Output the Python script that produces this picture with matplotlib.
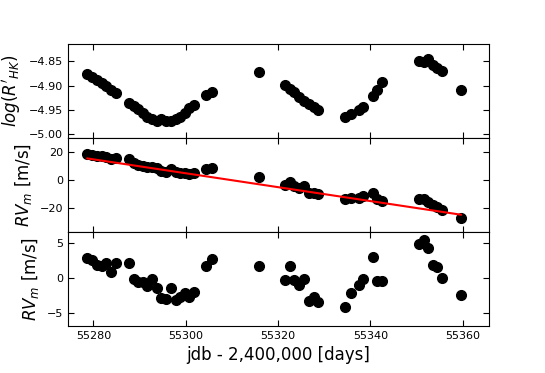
import matplotlib
matplotlib.use("Agg")
import matplotlib.pyplot as plt
import numpy as np

# Julian dates (jdb - 2,400,000)
jd = [55278.7, 55279.8, 55280.7, 55281.8, 55282.7, 55283.8, 55284.8,
      55287.7, 55288.7, 55289.7, 55290.7, 55291.7, 55292.7, 55293.7,
      55294.7, 55295.7, 55296.8, 55297.8, 55298.8, 55299.8, 55300.8,
      55301.8, 55304.5, 55305.7, 55315.9, 55321.5, 55322.5, 55323.5,
      55324.6, 55325.6, 55326.6, 55327.7, 55328.7, 55334.6, 55335.7,
      55337.5, 55338.5, 55340.6, 55341.5, 55342.6, 55350.5, 55351.6,
      55352.5, 55353.5, 55354.5, 55355.5, 55359.6]

log_rhk = [-4.876, -4.883, -4.889, -4.895, -4.900, -4.908, -4.915,
           -4.935, -4.942, -4.949, -4.957, -4.964, -4.969, -4.972,
           -4.969, -4.972, -4.973, -4.969, -4.964, -4.957, -4.947,
           -4.940, -4.919, -4.913, -4.872, -4.899, -4.906, -4.913,
           -4.923, -4.932, -4.938, -4.945, -4.951, -4.964, -4.958,
           -4.950, -4.943, -4.921, -4.909, -4.893, -4.850, -4.851,
           -4.844, -4.858, -4.864, -4.869, -4.908]

rv = [18.7, 18.2, 17.5, 17.0, 16.8, 14.9, 16.0,
      15.1, 12.0, 11.0, 10.3, 9.1, 9.8, 8.4,
      6.7, 6.2, 8.1, 5.5, 5.0, 5.0, 4.3,
      4.8, 7.7, 8.4, 2.4, -3.4, -1.0, -4.1,
      -5.3, -4.3, -8.9, -8.9, -10.1, -13.7, -12.5,
      -12.5, -11.7, -9.6, -13.7, -15.3, -13.7, -13.7,
      -16.0, -18.0, -19.2, -21.6, -27.3]

rv_resid = [2.8, 2.6, 1.8, 1.7, 2.1, 0.9, 2.1,
            2.1, -0.2, -0.6, -0.6, -1.2, -0.2, -1.4,
            -2.9, -3.0, -1.5, -3.2, -2.8, -2.2, -2.7,
            -2.0, 1.65, 2.7, 1.75, -0.25, 1.65, -0.25,
            -1.0, -0.1, -3.35, -2.7, -3.5, -4.1, -2.1,
            -1.0, -0.1, 3.0, -0.4, -0.5, 4.85, 5.4,
            4.3, 1.9, 1.55, 0.0, -2.5]

# linear trend fit (m/s, m/s/day) referenced to first epoch
fit_t0 = 55278.7
fit_intercept = 15.6
fit_slope = -0.50

fig = plt.figure(figsize=(5.45, 3.73), dpi=100)
left, right = 68 / 545, 489 / 545
top, bottom = 1 - 44 / 373, 1 - 326 / 373
h = (top - bottom) / 3
axes = [fig.add_axes([left, bottom + (2 - i) * h, right - left, h]) for i in range(3)]

ms = 7
axes[0].plot(jd, log_rhk, 'o', color='black', ms=ms)
axes[1].plot(jd, rv, 'o', color='black', ms=ms)
t_line = np.array([jd[0], jd[-1]])
axes[1].plot(t_line, fit_intercept + fit_slope * (t_line - fit_t0), '-', color='red', lw=1.5, zorder=3)
axes[2].plot(jd, rv_resid, 'o', color='black', ms=ms)

for ax in axes:
    ax.set_xlim(55274.5, 55365.7)
    ax.set_xticks([55280, 55300, 55320, 55340, 55360])
    ax.tick_params(direction='in', top=True, right=True, length=4, labelsize=8)

axes[0].set_ylim(-5.008, -4.814)
axes[0].set_yticks([-4.85, -4.90, -4.95, -5.00])
axes[0].set_yticklabels(['−4.85', '−4.90', '−4.95', '−5.00'])
axes[1].set_ylim(-37.3, 30.3)
axes[1].set_yticks([20, 0, -20])
axes[2].set_ylim(-6.9, 6.6)
axes[2].set_yticks([5, 0, -5])

axes[0].tick_params(labelbottom=False)
axes[1].tick_params(labelbottom=False)

axes[0].set_ylabel(r"$log(R'_{HK})$", fontsize=12)
axes[1].set_ylabel(r"$RV_m$ [m/s]", fontsize=12)
axes[2].set_ylabel(r"$RV_m$ [m/s]", fontsize=12)
axes[2].set_xlabel("jdb - 2,400,000 [days]", fontsize=12)

fig.savefig("out.png", dpi=100)
